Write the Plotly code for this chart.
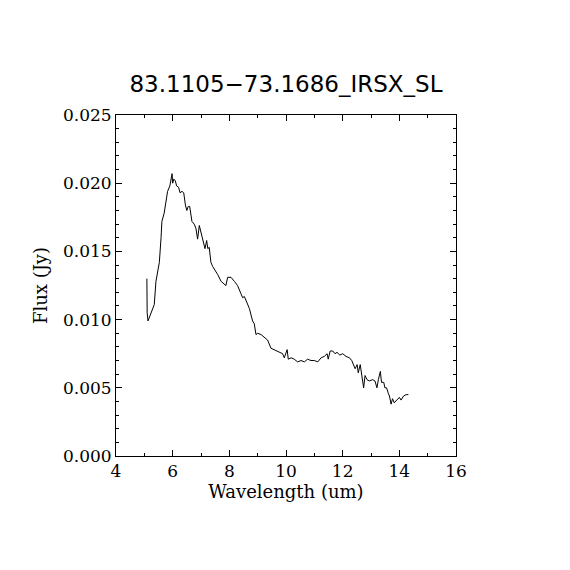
import plotly.graph_objects as go

# spectrum
wavelength = [5.09, 5.10, 5.13, 5.20, 5.28, 5.35, 5.41, 5.47, 5.53, 5.59, 5.62, 5.70,
              5.76, 5.82, 5.90, 5.98, 6.00, 6.04, 6.09, 6.14, 6.21, 6.26, 6.33, 6.39,
              6.45, 6.50, 6.55, 6.60, 6.68, 6.76, 6.82, 6.88, 6.94, 7.00, 7.09, 7.14,
              7.20, 7.24, 7.29, 7.35, 7.41, 7.47, 7.53, 7.59, 7.71, 7.80, 7.88, 7.94,
              8.06, 8.18, 8.29, 8.41, 8.47, 8.53, 8.59, 8.71, 8.82, 8.88, 8.94, 9.00,
              9.12, 9.24, 9.35, 9.47, 9.65, 9.76, 9.88, 9.94, 10.04, 10.08, 10.18, 10.29,
              10.41, 10.53, 10.65, 10.76, 10.88, 11.00, 11.12, 11.24, 11.35, 11.45, 11.49,
              11.56, 11.65, 11.73, 11.80, 11.90, 12.00, 12.12, 12.24, 12.32, 12.39, 12.44,
              12.51, 12.55, 12.62, 12.67, 12.74, 12.79, 12.86, 12.94, 13.06, 13.14, 13.21,
              13.26, 13.33, 13.37, 13.45, 13.49, 13.55, 13.61, 13.65, 13.71, 13.76, 13.82,
              13.92, 14.00, 14.06, 14.15, 14.24, 14.32]
flux = [0.0130, 0.0105, 0.0099, 0.0103, 0.0108, 0.0111, 0.0128, 0.0136, 0.0142, 0.0160, 0.0172, 0.0178,
        0.0187, 0.0194, 0.0198, 0.0207, 0.0200, 0.0203, 0.0202, 0.0198, 0.0197, 0.0193, 0.0194, 0.0193,
        0.0184, 0.0180, 0.0183, 0.0183, 0.0172, 0.0170, 0.0167, 0.0159, 0.0169, 0.0164, 0.0158, 0.0152,
        0.0158, 0.0152, 0.0153, 0.0142, 0.0139, 0.0137, 0.0136, 0.0133, 0.0128, 0.0126, 0.0125, 0.0131,
        0.0131, 0.0128, 0.0125, 0.0119, 0.0116, 0.0117, 0.0114, 0.0108, 0.0099, 0.0097, 0.0089, 0.0090,
        0.0089, 0.0087, 0.0085, 0.0079, 0.0077, 0.0076, 0.0075, 0.0072, 0.0078, 0.0071, 0.0072, 0.0071,
        0.0069, 0.0070, 0.0069, 0.0071, 0.0070, 0.0070, 0.0069, 0.0072, 0.0073, 0.0075, 0.0071,
        0.0077, 0.0077, 0.0075, 0.0076, 0.0074, 0.0075, 0.0073, 0.0072, 0.0070, 0.0067, 0.0064,
        0.0067, 0.0061, 0.0067, 0.0059, 0.0050, 0.0059, 0.0056, 0.0055, 0.0056, 0.0055, 0.0050,
        0.0056, 0.0062, 0.0054, 0.0054, 0.0050, 0.0050, 0.0046, 0.0044, 0.0038, 0.0042, 0.0039,
        0.0041, 0.0043, 0.0041, 0.0044, 0.0045, 0.0045]

x_ticks = [4, 6, 8, 10, 12, 14, 16]
y_ticks = [0.000, 0.005, 0.010, 0.015, 0.020, 0.025]
y_tick_labels = ['0.000', '0.005', '0.010', '0.015', '0.020', '0.025']

font_serif = 'DejaVu Serif'

fig = go.Figure()
fig.add_trace(go.Scatter(x=wavelength, y=flux, mode='lines',
                         line=dict(color='black', width=1), showlegend=False))

axis_common = dict(
    showgrid=False, zeroline=False, showline=True, linecolor='black', linewidth=1,
    mirror='allticks', ticks='inside', ticklen=6, tickcolor='black', tickwidth=1,
    tickfont=dict(family=font_serif, size=17, color='black'),
)

fig.update_layout(
    width=570, height=570,
    margin=dict(l=108, r=122, t=107, b=122),
    paper_bgcolor='white', plot_bgcolor='white',
    title=dict(text='83.1105\u221273.1686_IRSX_SL', x=(108 + 170) / 570, xanchor='center',
               y=1 - 76 / 570, yanchor='middle',
               font=dict(family='DejaVu Sans', size=23, color='black')),
    xaxis=dict(range=[4, 16], tickvals=x_ticks,
               minor=dict(dtick=1, ticks='inside', ticklen=3, tickcolor='black'),
               title=dict(text='Wavelength (um)', standoff=4,
                          font=dict(family=font_serif, size=18, color='black')),
               **axis_common),
    yaxis=dict(range=[0, 0.025], tickvals=y_ticks, ticktext=y_tick_labels,
               minor=dict(dtick=0.001, ticks='inside', ticklen=3, tickcolor='black'),
               title=dict(text='Flux (Jy)', standoff=10,
                          font=dict(family=font_serif, size=18, color='black')),
               **axis_common),
)

fig.write_html('out.html')
